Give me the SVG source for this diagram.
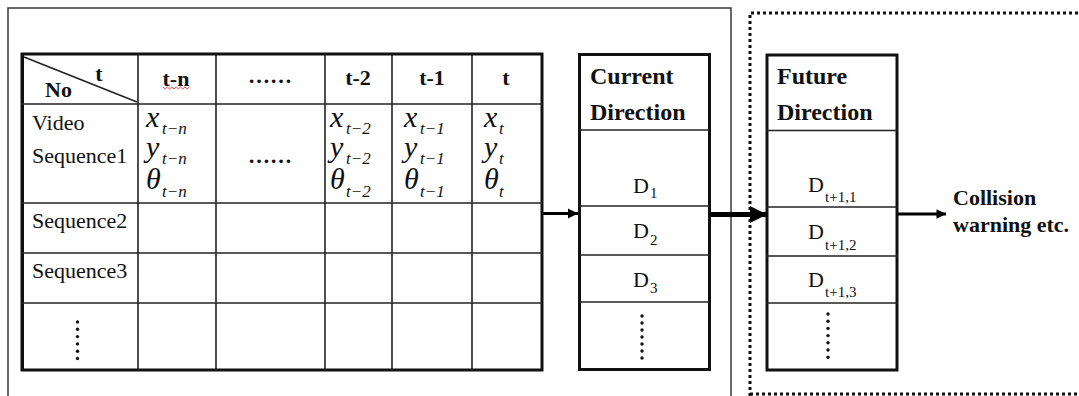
<svg xmlns="http://www.w3.org/2000/svg" width="1079" height="396" viewBox="0 0 1079 396">
  <style>
    .frame { fill: none; stroke: #3a3a3a; stroke-width: 1.5; }
    .dotted { fill: none; stroke: #111; stroke-width: 3; stroke-dasharray: 3 3; }
    .outer { fill: none; stroke: #111; stroke-width: 3; }
    .grid { stroke: #222; stroke-width: 1.6; fill: none; }
    .hd { font-family: "Liberation Serif", "Times New Roman", serif; font-weight: bold; font-size: 22px; fill: #111; }
    .bh { font-family: "Liberation Serif", "Times New Roman", serif; font-weight: bold; font-size: 24px; fill: #111; }
    .out { font-family: "Liberation Serif", "Times New Roman", serif; font-weight: bold; font-size: 22px; fill: #111; }
    .lbl { font-family: "Liberation Serif", "Times New Roman", serif; font-size: 22px; fill: #111; }
    .mv { font-family: "Liberation Serif", "Times New Roman", serif; font-style: italic; font-size: 30px; fill: #111; }
    .ms { font-family: "Liberation Serif", "Times New Roman", serif; font-style: italic; font-size: 17px; fill: #111; }
    .dv { font-family: "Liberation Serif", "Times New Roman", serif; font-size: 22px; fill: #111; }
    .ds { font-family: "Liberation Serif", "Times New Roman", serif; font-size: 15px; fill: #111; }
    .dot { fill: #111; }
    .conn { stroke: #000; fill: none; }
  </style>
  <defs>
    <marker id="headS" viewBox="0 0 10 10" refX="10" refY="5" markerWidth="3.4" markerHeight="3.4" orient="auto" markerUnits="strokeWidth">
      <path d="M0,0 L10,5 L0,10 Z" fill="#000"/>
    </marker>
    <marker id="headL" viewBox="0 0 10 10" refX="10" refY="5" markerWidth="3.6" markerHeight="3.4" orient="auto" markerUnits="strokeWidth">
      <path d="M0,0 L10,5 L0,10 Z" fill="#000"/>
    </marker>
  </defs>

  <rect width="1079" height="396" fill="#fff"/>

  <!-- enclosing frames -->
  <g id="frames">
    <path class="frame" d="M8,400 V8 H731 V400"/>
    <path class="dotted" d="M750,396 V13 H1085"/>
    <path class="dotted" d="M750,394 H1085" stroke-dasharray="5 3"/>
  </g>

  <!-- trajectory table -->
  <g id="table">
    <rect class="outer" x="22" y="54" width="520" height="316"/>
    <line x1="23" y1="54" x2="23" y2="370" stroke="#111" stroke-width="2"/>
    <g class="grid">
      <line x1="138" y1="54" x2="138" y2="370"/>
      <line x1="216" y1="54" x2="216" y2="370"/>
      <line x1="325" y1="54" x2="325" y2="370"/>
      <line x1="392" y1="54" x2="392" y2="370"/>
      <line x1="472" y1="54" x2="472" y2="370"/>
      <line x1="22" y1="104" x2="542" y2="104"/>
      <line x1="22" y1="203" x2="542" y2="203"/>
      <line x1="22" y1="253" x2="542" y2="253"/>
      <line x1="22" y1="303" x2="542" y2="303"/>
      <line x1="24" y1="57" x2="137" y2="102"/>
    </g>
    <!-- header row -->
    <text class="hd" x="99" y="81" text-anchor="middle">t</text>
    <text class="hd" x="45" y="97">No</text>
    <text class="hd" x="176" y="86" text-anchor="middle">t-n</text>
    <path d="M163,87 l2.2,2 l2.2,-2 l2.2,2 l2.2,-2 l2.2,2 l2.2,-2 l2.2,2 l2.2,-2 l2.2,2 l2.2,-2 l2.2,2 l2.2,-2" fill="none" stroke="#e03030" stroke-width="0.9"/>
    <text class="hd" x="270" y="83" text-anchor="middle">……</text>
    <text class="hd" x="358" y="85" text-anchor="middle">t-2</text>
    <text class="hd" x="432" y="85" text-anchor="middle">t-1</text>
    <text class="hd" x="506" y="85" text-anchor="middle">t</text>
    <!-- row labels -->
    <text class="lbl" x="32" y="130">Video</text>
    <text class="lbl" x="32" y="163">Sequence1</text>
    <text class="lbl" x="32" y="228">Sequence2</text>
    <text class="lbl" x="32" y="278">Sequence3</text>
    <g class="dot">
      <circle cx="77.5" cy="322" r="1.7"/>
      <circle cx="77.5" cy="329.3" r="1.7"/>
      <circle cx="77.5" cy="336.6" r="1.7"/>
      <circle cx="77.5" cy="343.9" r="1.7"/>
      <circle cx="77.5" cy="351.2" r="1.7"/>
      <circle cx="77.5" cy="358.5" r="1.7"/>
    </g>
    <text class="hd" x="270" y="163" text-anchor="middle">……</text>
    <!-- state values: column t-n -->
    <text class="mv" x="146" y="127">x</text><text class="ms" x="162" y="134">t−n</text>
    <text class="mv" x="146" y="157">y</text><text class="ms" x="162" y="164">t−n</text>
    <text class="mv" x="146" y="189">θ</text><text class="ms" x="162" y="197">t−n</text>
    <!-- column t-2 -->
    <text class="mv" x="330" y="127">x</text><text class="ms" x="346" y="134">t−2</text>
    <text class="mv" x="330" y="157">y</text><text class="ms" x="346" y="164">t−2</text>
    <text class="mv" x="330" y="189">θ</text><text class="ms" x="346" y="197">t−2</text>
    <!-- column t-1 -->
    <text class="mv" x="404" y="127">x</text><text class="ms" x="420" y="134">t−1</text>
    <text class="mv" x="404" y="157">y</text><text class="ms" x="420" y="164">t−1</text>
    <text class="mv" x="404" y="189">θ</text><text class="ms" x="420" y="197">t−1</text>
    <!-- column t -->
    <text class="mv" x="484" y="127">x</text><text class="ms" x="499" y="134">t</text>
    <text class="mv" x="484" y="157">y</text><text class="ms" x="499" y="164">t</text>
    <text class="mv" x="484" y="189">θ</text><text class="ms" x="499" y="197">t</text>
  </g>

  <!-- current direction column -->
  <g id="current">
    <rect class="outer" x="579.5" y="54.5" width="130" height="315" stroke-width="2.6"/>
    <g class="grid">
      <line x1="579" y1="130" x2="710" y2="130"/>
      <line x1="579" y1="206" x2="710" y2="206"/>
      <line x1="579" y1="255" x2="710" y2="255"/>
      <line x1="579" y1="302" x2="710" y2="302"/>
    </g>
    <text class="bh" x="590" y="84">Current</text>
    <text class="bh" x="590" y="120">Direction</text>
    <text class="dv" x="633" y="193">D</text><text class="ds" x="650" y="198">1</text>
    <text class="dv" x="633" y="238">D</text><text class="ds" x="650" y="245">2</text>
    <text class="dv" x="633" y="287">D</text><text class="ds" x="650" y="293">3</text>
    <g class="dot">
      <circle cx="642" cy="316" r="1.7"/>
      <circle cx="642" cy="323" r="1.7"/>
      <circle cx="642" cy="330" r="1.7"/>
      <circle cx="642" cy="337" r="1.7"/>
      <circle cx="642" cy="344" r="1.7"/>
      <circle cx="642" cy="351" r="1.7"/>
      <circle cx="642" cy="358" r="1.7"/>
    </g>
  </g>

  <!-- future direction column -->
  <g id="future">
    <rect class="outer" x="767" y="55" width="130" height="315" stroke-width="2.6"/>
    <g class="grid">
      <line x1="767" y1="130.5" x2="897" y2="130.5"/>
      <line x1="767" y1="207" x2="897" y2="207"/>
      <line x1="767" y1="256" x2="897" y2="256"/>
      <line x1="767" y1="303" x2="897" y2="303"/>
    </g>
    <text class="bh" x="777" y="84">Future</text>
    <text class="bh" x="777" y="120">Direction</text>
    <text class="dv" x="808" y="192">D</text><text class="ds" x="825" y="202">t+1,1</text>
    <text class="dv" x="808" y="239">D</text><text class="ds" x="825" y="250">t+1,2</text>
    <text class="dv" x="808" y="287">D</text><text class="ds" x="825" y="297">t+1,3</text>
    <g class="dot">
      <circle cx="828" cy="314" r="1.7"/>
      <circle cx="828" cy="321.2" r="1.7"/>
      <circle cx="828" cy="328.4" r="1.7"/>
      <circle cx="828" cy="335.6" r="1.7"/>
      <circle cx="828" cy="342.8" r="1.7"/>
      <circle cx="828" cy="350" r="1.7"/>
      <circle cx="828" cy="357.2" r="1.7"/>
    </g>
  </g>

  <!-- output label -->
  <g id="output">
    <text class="out" x="953" y="205">Collision</text>
    <text class="out" x="953" y="232">warning etc.</text>
  </g>

  <!-- connectors -->
  <g id="connectors">
    <line class="conn" x1="543" y1="213.5" x2="578" y2="213.5" stroke-width="3" marker-end="url(#headS)"/>
    <line class="conn" x1="710" y1="214.5" x2="767" y2="214.5" stroke-width="5" marker-end="url(#headL)"/>
    <line class="conn" x1="898" y1="214" x2="946" y2="214" stroke-width="2.8" marker-end="url(#headS)"/>
  </g>
</svg>
